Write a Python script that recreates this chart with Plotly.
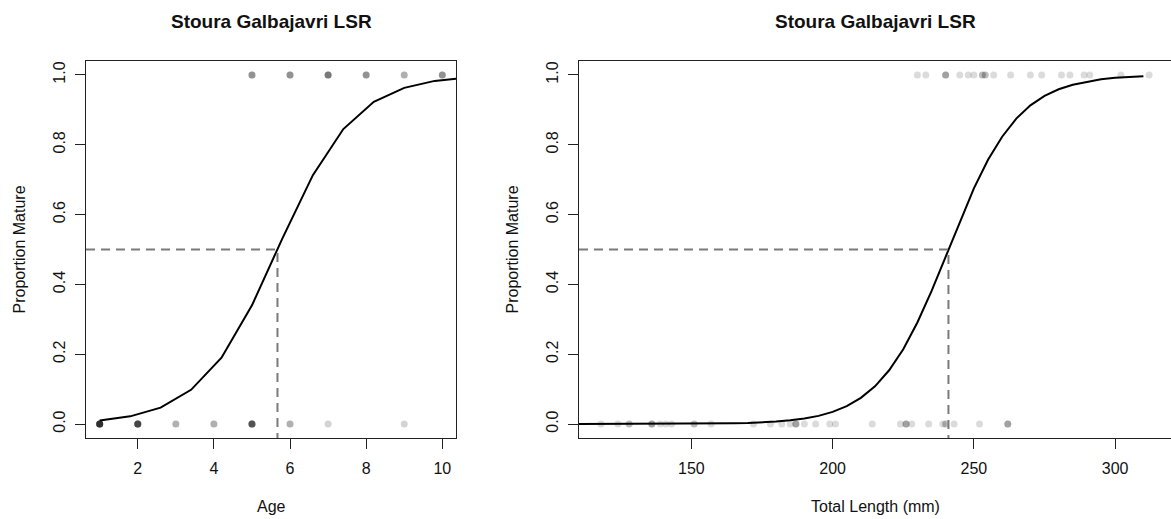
import numpy as np
import plotly.graph_objects as go

# ---- Age panel: fish counts at each age, split by maturity ----
age_immature = [1, 2, 3, 4, 5, 6, 7, 9]
n_immature_by_age = [9, 7, 2, 2, 6, 2, 1, 1]
age_mature = [5, 6, 7, 8, 9, 10]
n_mature_by_age = [3, 3, 4, 3, 2, 3]

# fitted maturity ogive against age
ogive_age = [1.0, 1.8, 2.6, 3.4, 4.2, 5.0, 5.8, 6.6, 7.4, 8.2, 9.0, 9.8, 10.6]
ogive_age_p = [0.010, 0.022, 0.047, 0.098, 0.190, 0.340, 0.532, 0.713,
               0.845, 0.923, 0.963, 0.983, 0.992]
a50 = 5.67  # age at 50% maturity

# ---- Length panel: individual fish total lengths (mm) ----
length_immature = [118, 124, 128, 128, 136, 136, 136, 139, 141, 143, 151, 151,
                   157, 172, 178, 182, 185, 187, 187, 187, 190, 194, 199, 201,
                   214, 224, 226, 226, 226, 228, 234, 239, 240, 240, 243, 252,
                   262, 262, 262]
length_mature = [230, 233, 240, 240, 240, 245, 248, 250, 253, 253, 254, 254,
                 257, 263, 270, 274, 281, 284, 289, 291, 302, 312]

# fitted maturity ogive against total length
ogive_len = [110, 115, 120, 125, 130, 135, 140, 145, 150, 155, 160, 165, 170,
             175, 180, 185, 190, 195, 200, 205, 210, 215, 220, 225, 230, 235,
             240, 245, 250, 255, 260, 265, 270, 275, 280, 285, 290, 295, 300,
             305, 310]
ogive_len_p = [0.00002, 0.00004, 0.00006, 0.00008, 0.00012, 0.00019, 0.00028,
               0.00042, 0.00063, 0.00094, 0.00141, 0.00211, 0.00317, 0.00474,
               0.0071, 0.0106, 0.0158, 0.0234, 0.0349, 0.0512, 0.0751, 0.108,
               0.154, 0.214, 0.291, 0.381, 0.480, 0.580, 0.675, 0.757, 0.823,
               0.875, 0.913, 0.940, 0.959, 0.972, 0.981, 0.988, 0.9917, 0.9944,
               0.9963]
l50 = 241  # length at 50% maturity (mm)

TITLE = "Stoura Galbajavri LSR"
FONT = "Liberation Sans, Arial, sans-serif"
W, H = 1171, 519


def padded(lo, hi, frac=0.04):
    span = hi - lo
    return [lo - frac * span, hi + frac * span]


# expand per-age counts into one record per fish
ages_imm = np.repeat(age_immature, n_immature_by_age)
ages_mat = np.repeat(age_mature, n_mature_by_age)
all_ages = np.concatenate([ages_imm, ages_mat])
all_lens = np.array(length_immature + length_mature)

xr1 = padded(all_ages.min(), all_ages.max())
xr2 = padded(all_lens.min(), all_lens.max())
yr = padded(0, 1)

fig = go.Figure()

# --- left: age ---
fig.add_trace(go.Scatter(
    x=np.concatenate([ages_imm, ages_mat]),
    y=np.concatenate([np.zeros(len(ages_imm)), np.ones(len(ages_mat))]),
    mode="markers", xaxis="x", yaxis="y",
    marker=dict(size=7, color="rgba(0,0,0,0.17)", line=dict(width=0)),
    hoverinfo="skip"))
fig.add_trace(go.Scatter(
    x=ogive_age, y=ogive_age_p, mode="lines", xaxis="x", yaxis="y",
    line=dict(color="black", width=2)))
fig.add_trace(go.Scatter(
    x=[xr1[0], a50, a50], y=[0.5, 0.5, yr[0]], mode="lines",
    xaxis="x", yaxis="y",
    line=dict(color="#7a7a7a", width=2, dash="9px,6px")))

# --- right: total length ---
fig.add_trace(go.Scatter(
    x=all_lens,
    y=[0] * len(length_immature) + [1] * len(length_mature),
    mode="markers", xaxis="x2", yaxis="y2",
    marker=dict(size=7, color="rgba(0,0,0,0.14)", line=dict(width=0)),
    hoverinfo="skip"))
fig.add_trace(go.Scatter(
    x=ogive_len, y=ogive_len_p, mode="lines", xaxis="x2", yaxis="y2",
    line=dict(color="black", width=2)))
fig.add_trace(go.Scatter(
    x=[xr2[0], l50, l50], y=[0.5, 0.5, yr[0]], mode="lines",
    xaxis="x2", yaxis="y2",
    line=dict(color="#7a7a7a", width=2, dash="9px,6px")))

# panel geometry (pixels)
left_box = (86, 456)
right_box = (579, 1171)
top_px, bottom_px = 61, 438
ydom = [(H - bottom_px) / H, (H - top_px) / H]

axis_common = dict(
    showgrid=False, zeroline=False, showline=True, linecolor="#222",
    linewidth=1, ticks="outside", ticklen=10, tickwidth=1, tickcolor="#222",
    tickfont=dict(family=FONT, size=16, color="#111"))

fig.update_layout(
    width=W, height=H, margin=dict(l=0, r=0, t=0, b=0),
    paper_bgcolor="white", plot_bgcolor="white", showlegend=False,
    font=dict(family=FONT, color="#111"),
    xaxis=dict(axis_common, domain=[left_box[0] / W, left_box[1] / W],
               range=xr1, tickvals=[2, 4, 6, 8, 10], mirror=True,
               anchor="y", ticklabelstandoff=6),
    yaxis=dict(axis_common, domain=ydom, range=yr,
               tickvals=[0, 0.2, 0.4, 0.6, 0.8, 1.0], tickformat=".1f",
               tickangle=-90, mirror=True, anchor="x", ticklabelstandoff=4),
    xaxis2=dict(axis_common, domain=[right_box[0] / W, right_box[1] / W],
                range=xr2, tickvals=[150, 200, 250, 300], mirror=True,
                anchor="y2", ticklabelstandoff=6),
    yaxis2=dict(axis_common, domain=ydom, range=yr,
                tickvals=[0, 0.2, 0.4, 0.6, 0.8, 1.0], tickformat=".1f",
                tickangle=-90, mirror=False, anchor="x2",
                ticklabelstandoff=4),
)

# titles and axis labels
def ann(text, x_px, y_px, size=16, bold=False, angle=0):
    fig.add_annotation(
        text=f"<b>{text}</b>" if bold else text,
        x=x_px / W, y=(H - y_px) / H, xref="paper", yref="paper",
        xanchor="center", yanchor="middle", showarrow=False, textangle=angle,
        font=dict(family=FONT, size=size, color="#111"))

ann(TITLE, sum(left_box) / 2, 21, size=19, bold=True)
ann(TITLE, (right_box[0] + 1172) / 2, 21, size=19, bold=True)
ann("Age", sum(left_box) / 2, 506)
ann("Total Length (mm)", (right_box[0] + 1172) / 2, 506)
ann("Proportion Mature", 19, (top_px + bottom_px) / 2, angle=-90)
ann("Proportion Mature", 512, (top_px + bottom_px) / 2, angle=-90)

fig.write_html("out.html")
